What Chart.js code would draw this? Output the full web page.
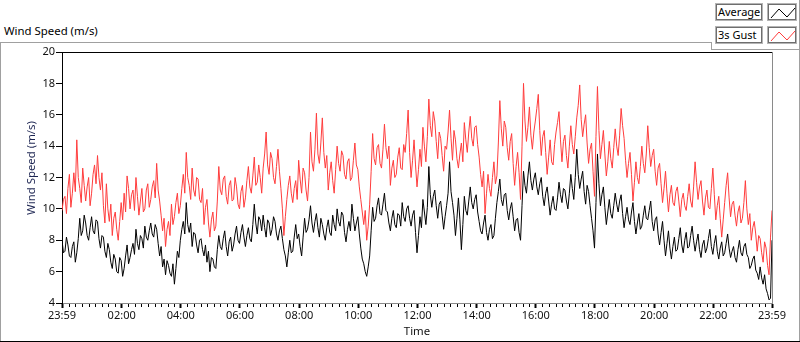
<!DOCTYPE html>
<html>
<head>
<meta charset="utf-8">
<script src="https://cdn.jsdelivr.net/npm/chart.js@4.4.1/dist/chart.umd.min.js"></script>
<style>
    html, body { margin: 0; padding: 0; background: #fff; }
    #wrap { position: relative; width: 800px; height: 342px; overflow: hidden; font-family: 'Noto Sans', sans-serif; }
    #chart { position: absolute; left: 0; top: 0; }
    .ln { position: absolute; background: #a0a0a0; }
    #title { position: absolute; left: 4px; top: 23px; font-size: 11.4px; color: #000; white-space: nowrap; }
    .lg { position: absolute; box-sizing: border-box; height: 18px; border: 1px solid #b4b4b4; box-shadow: inset 0 0 0 1px #6e6e6e; background: #fff; font-size: 11px; line-height: 15px; padding-left: 2px; white-space: nowrap; }
    .lg svg { position: absolute; left: 0; top: 0; }
</style>
</head>
<body>
<div id="wrap">
    <div class="ln" style="left:0;top:42px;width:711px;height:1px"></div>
    <div class="ln" style="left:711px;top:42px;width:1px;height:8px"></div>
    <div class="ln" style="left:711px;top:49px;width:88px;height:1px"></div>
    <div class="ln" style="left:799px;top:0;width:1px;height:342px"></div>
    <div class="ln" style="left:0;top:42px;width:1px;height:300px"></div>
    <div class="ln" style="left:0;top:341px;width:800px;height:1px;background:#000"></div>
    <div id="title">Wind Speed (m/s)</div>
    <div class="lg" style="left:715px;top:3px;width:48px">Average</div>
    <div class="lg" style="left:767px;top:3px;width:30px">
        <svg width="30" height="18"><polyline points="3,14 11,5 19,13 27,4" fill="none" stroke="#000" stroke-width="1"/></svg>
    </div>
    <div class="lg" style="left:715px;top:26px;width:48px">3s Gust</div>
    <div class="lg" style="left:767px;top:26px;width:30px">
        <svg width="30" height="18"><polyline points="3,14 11,5 19,13 27,4" fill="none" stroke="#ff3c3c" stroke-width="1"/></svg>
    </div>
    <canvas id="chart" width="800" height="342"></canvas>
</div>
<script>
// one sample every 3 minutes, first one at 23:59 of the previous day (-1 min)
const START_MIN = -1;
const STEP_MIN = 3;

const TICK_VALUES = [-1, 120, 240, 360, 480, 600, 720, 840, 960, 1080, 1200, 1320, 1439];
const TICK_LABELS = ['23:59', '02:00', '04:00', '06:00', '08:00', '10:00', '12:00', '14:00', '16:00', '18:00', '20:00', '22:00', '23:59'];
const MINOR_PER_MAJOR = 9;

const gust = [
    9.9, 10.6, 10.8, 9.7, 11.3, 12.2, 10.1, 11.0, 12.3, 11.1,
    14.4, 12.0, 11.3, 10.4, 12.6, 11.5, 10.5, 11.4, 12.0, 10.2,
    11.0, 12.2, 12.8, 11.6, 13.4, 12.0, 11.2, 12.3, 10.2, 9.1,
    11.6, 10.0, 9.2, 10.3, 8.3, 9.4, 9.8, 8.7, 8.0, 9.2,
    10.4, 9.3, 11.0, 9.8, 12.1, 11.3, 10.0, 10.9, 11.2, 9.9,
    12.0, 10.8, 9.6, 10.5, 11.3, 9.8, 10.0, 11.2, 11.6, 10.1,
    10.6, 11.4, 11.8, 10.7, 12.9, 11.2, 10.5, 9.6, 8.6, 9.4,
    7.6, 8.7, 9.2, 8.3, 10.3, 9.0, 9.5, 10.4, 11.0, 9.7,
    10.2, 11.3, 12.2, 11.0, 13.6, 12.0, 11.5, 10.6, 12.6, 11.2,
    10.8, 12.0, 11.9, 10.6, 10.4, 11.3, 9.0, 10.1, 10.6, 9.1,
    8.2, 9.3, 9.8, 8.6, 8.9, 10.5, 12.7, 11.2, 10.9, 11.9,
    12.1, 10.8, 10.3, 11.5, 11.8, 10.5, 10.6, 12.0, 11.4, 10.3,
    10.0, 11.1, 11.5, 10.1, 10.7, 11.8, 12.7, 11.4, 11.0, 12.1,
    13.3, 11.5, 11.7, 12.8, 12.0, 11.0, 12.6, 13.5, 14.9, 12.8,
    12.2, 13.6, 13.2, 12.0, 11.6, 12.7, 13.8, 12.4, 11.3, 10.0,
    8.3, 9.5, 10.6, 11.5, 12.1, 11.0, 10.4, 11.3, 11.8, 10.6,
    13.1, 11.9, 11.0, 12.6, 12.3, 11.2, 10.5, 12.0, 14.9, 13.0,
    12.4, 13.8, 16.1, 13.5, 12.9, 14.2, 15.8, 13.6, 12.6, 13.4,
    11.2, 12.3, 13.0, 11.8, 11.0, 12.5, 14.0, 12.9, 12.4, 13.7,
    13.4, 12.2, 11.9, 13.0, 13.2, 11.8, 12.0, 13.1, 14.2, 12.8,
    12.5, 11.4, 10.6, 9.8, 9.0, 9.9, 8.0, 8.9, 10.3, 12.4,
    14.8, 13.2, 12.8, 13.9, 14.1, 12.9, 12.6, 13.8, 15.4, 13.9,
    13.2, 14.0, 11.5, 12.6, 13.1, 12.0, 12.2, 13.3, 13.9, 12.6,
    12.5, 14.1, 13.6, 14.8, 16.3, 13.6, 12.0, 13.1, 14.4, 12.8,
    11.4, 12.5, 13.8, 12.7, 15.2, 14.0, 13.0, 14.6, 17.0, 15.3,
    14.6, 16.2, 15.6, 14.3, 13.2, 14.9, 14.5, 13.4, 12.4, 14.0,
    13.8, 14.9, 16.3, 14.5, 13.1, 15.0, 14.4, 13.2, 12.6, 13.5,
    14.2, 13.0, 15.5, 14.4, 13.6, 14.9, 15.9, 14.5, 14.0, 15.2,
    15.3, 14.1, 13.3, 12.2, 11.4, 12.4, 9.7, 11.0, 12.2, 11.3,
    10.8, 12.0, 13.0, 11.6, 12.1, 14.2, 16.9, 15.1, 14.0, 15.6,
    15.2, 13.9, 13.1, 14.3, 14.8, 12.9, 11.5, 12.7, 13.6, 12.3,
    10.6, 14.0, 18.0, 15.6, 14.3, 15.2, 16.5, 14.7, 13.8, 14.9,
    15.6, 16.4, 17.3, 15.0, 13.4, 14.6, 15.0, 13.6, 12.2, 13.3,
    14.4, 13.0, 12.8, 14.1, 14.9, 15.5, 16.2, 14.4, 13.0, 14.3,
    14.7, 13.4, 12.6, 14.0, 15.3, 14.1, 13.5, 14.6, 15.8, 16.6,
    17.9, 15.7, 14.6, 15.4, 16.0, 14.2, 12.9, 13.8, 14.2, 12.4,
    10.8, 14.6, 17.8, 15.0, 13.2, 14.1, 15.0, 13.5, 12.1, 13.0,
    14.3, 13.2, 12.6, 13.9, 15.1, 14.0, 13.4, 14.7, 16.4, 15.3,
    14.5, 13.1, 12.0, 12.9, 13.6, 12.2, 10.5, 11.7, 13.0, 12.0,
    11.6, 12.7, 14.0, 12.9, 12.3, 13.5, 15.3, 13.9, 12.7, 13.4,
    13.8, 12.4, 11.5, 12.6, 12.9, 11.6, 10.4, 11.3, 12.4, 11.0,
    9.8, 10.9, 11.5, 10.4, 10.2, 11.1, 11.4, 10.5, 9.5, 10.6,
    11.0, 10.2, 9.9, 10.8, 11.6, 10.5, 10.1, 11.4, 13.0, 11.7,
    10.6, 11.4, 11.8, 10.5, 9.6, 10.7, 11.2, 10.1, 10.0, 11.3,
    12.6, 10.9, 9.3, 10.2, 10.8, 9.4, 8.2, 9.3, 10.4, 11.5,
    12.3, 10.7, 9.5, 10.3, 10.5, 9.6, 8.9, 9.8, 10.2, 9.1,
    9.4, 10.4, 11.8, 10.0, 9.0, 9.7, 8.0, 8.8, 9.2, 8.4,
    7.3, 8.3, 8.1, 7.2, 6.6, 7.9, 7.5, 6.4, 5.8, 8.2,
    9.9
];

const average = [
    8.0, 7.2, 7.3, 8.2, 7.7, 7.0, 6.9, 7.6, 7.9, 6.6,
    7.2, 8.1, 9.4, 8.3, 8.6, 9.6, 9.1, 8.3, 8.0, 8.8,
    9.5, 8.6, 8.4, 9.3, 9.2, 8.1, 7.5, 8.3, 8.2, 7.3,
    6.9, 7.8, 7.4, 6.6, 6.2, 7.1, 6.8, 6.0, 5.9, 6.9,
    6.7, 5.7, 6.2, 7.0, 7.7, 6.5, 6.9, 7.4, 7.8, 7.1,
    8.7, 7.8, 7.4, 8.3, 8.1, 7.5, 8.9, 8.2, 8.0, 8.6,
    9.1, 8.4, 8.2, 9.0, 8.7, 7.8, 7.0, 7.6, 6.3, 6.8,
    5.8, 6.7, 6.4, 5.9, 5.7, 6.5, 5.2, 6.2, 7.3, 6.9,
    8.0, 8.7, 9.2, 8.4, 10.4, 9.0, 8.5, 9.1, 7.6, 8.5,
    8.4, 7.7, 7.2, 8.0, 8.1, 7.4, 7.0, 7.7, 6.6, 7.3,
    6.0, 6.9, 6.8, 6.3, 6.2, 7.4, 8.3, 7.6, 7.4, 8.1,
    8.6, 7.6, 7.0, 7.9, 8.2, 7.3, 7.7, 8.4, 8.9, 8.0,
    7.8, 8.5, 9.0, 8.2, 7.6, 8.3, 8.8, 8.1, 7.9, 9.0,
    10.3, 9.1, 8.4, 9.5, 9.3, 8.6, 9.6, 8.8, 8.2, 9.3,
    9.1, 8.3, 8.7, 9.5, 9.2, 8.4, 8.0, 8.6, 8.9, 8.1,
    7.4, 7.0, 6.3, 7.2, 8.0, 7.2, 7.3, 8.2, 9.0, 8.1,
    8.4, 7.6, 7.0, 8.2, 9.4, 8.5, 8.7, 9.3, 10.2, 9.1,
    8.5, 9.2, 9.7, 8.8, 8.2, 9.4, 9.0, 8.4, 8.0, 8.8,
    9.3, 8.5, 8.3, 9.6, 9.0, 8.6, 10.0, 9.2, 8.9, 9.8,
    9.6, 8.5, 7.9, 8.7, 9.2, 8.6, 10.3, 9.4, 8.6, 9.1,
    9.5, 8.4, 7.5, 6.8, 6.5, 6.0, 5.7, 6.3, 7.0, 8.6,
    10.1, 9.2, 9.4, 10.2, 10.7, 9.7, 9.6, 10.3, 11.0, 9.9,
    9.8, 9.1, 8.6, 9.4, 9.9, 9.0, 8.8, 9.7, 9.6, 8.9,
    10.4, 9.5, 9.2, 10.0, 10.2, 9.4, 8.9, 9.6, 9.9, 8.5,
    7.2, 8.3, 9.5, 8.8, 10.6, 9.8, 9.0, 10.1, 12.7, 10.9,
    10.1, 10.8, 11.2, 10.2, 9.4, 10.3, 10.5, 9.6, 8.7, 9.5,
    10.2, 11.0, 13.0, 11.1, 10.4, 9.6, 8.3, 9.4, 10.7, 9.3,
    7.4, 9.0, 10.8, 9.9, 9.6, 10.5, 11.4, 10.4, 10.0, 10.6,
    10.9, 9.8, 9.2, 8.6, 8.4, 9.1, 9.6, 8.5, 8.0, 8.7,
    9.0, 8.1, 8.3, 9.4, 10.4, 11.1, 11.9, 10.6, 10.2, 10.9,
    11.0, 9.9, 9.3, 10.0, 10.4, 9.5, 8.6, 9.3, 9.4, 8.5,
    8.0, 10.2, 12.4, 11.5, 11.0, 12.1, 13.0, 11.8, 11.2, 11.9,
    12.3, 11.4, 10.9, 11.6, 12.0, 10.8, 10.2, 11.0, 11.4, 10.5,
    9.6, 10.3, 10.8, 10.0, 9.9, 10.7, 11.7, 10.9, 10.4, 11.3,
    11.2, 10.5, 10.0, 11.0, 12.2, 11.3, 10.6, 12.0, 13.8, 12.2,
    11.3, 11.9, 12.4, 11.1, 10.3, 11.5, 11.1, 10.2, 9.4, 8.6,
    7.5, 10.4, 13.5, 11.6, 10.2, 10.9, 11.4, 10.1, 9.0, 9.8,
    10.6, 9.7, 9.4, 10.2, 11.0, 10.3, 9.8, 10.5, 10.9, 9.7,
    8.8, 9.5, 10.1, 9.3, 9.0, 9.8, 10.4, 9.2, 8.4, 9.1,
    9.7, 8.7, 8.9, 9.6, 10.2, 9.4, 9.3, 9.9, 10.5, 9.2,
    8.6, 9.3, 9.5, 8.4, 7.7, 8.5, 9.2, 8.0, 7.0, 7.8,
    8.6, 7.5, 6.8, 7.6, 8.2, 7.3, 7.4, 8.1, 8.8, 7.7,
    7.2, 8.0, 8.5, 7.5, 7.6, 8.3, 8.9, 8.0, 7.3, 7.9,
    8.4, 7.4, 6.9, 7.7, 8.0, 7.2, 7.5, 8.1, 8.7, 7.6,
    7.1, 7.8, 8.3, 7.3, 6.8, 7.5, 7.9, 7.0, 7.2, 7.8,
    8.4, 7.5, 6.9, 7.3, 7.6, 6.9, 6.6, 7.4, 8.0, 7.2,
    7.0, 7.6, 7.8, 7.1, 6.9, 6.2, 6.4, 6.8, 7.0, 6.1,
    5.9, 5.5, 6.3, 5.6, 5.2, 5.8, 4.9, 4.6, 4.2, 4.3,
    8.0
];

const toPoints = arr => arr.map((v, i) => ({ x: START_MIN + i * STEP_MIN, y: v }));

const FONT = { family: "'Noto Sans', sans-serif", size: 11 };

// top/right frame, minor x ticks and the two axis titles
const framePlugin = {
    id: 'frame',
    afterDraw(chart) {
        const { ctx, chartArea: a, scales: { x } } = chart;
        ctx.save();
        ctx.lineWidth = 1;
        ctx.strokeStyle = '#000';
        ctx.beginPath();
        ctx.moveTo(a.left, a.top + 0.5);
        ctx.lineTo(a.right, a.top + 0.5);
        ctx.stroke();
        ctx.strokeStyle = '#8a8a8a';
        ctx.beginPath();
        ctx.moveTo(a.right + 0.5, a.top);
        ctx.lineTo(a.right + 0.5, a.bottom);
        ctx.stroke();

        ctx.strokeStyle = '#000';
        ctx.beginPath();
        for (let k = 0; k < TICK_VALUES.length - 1; k++) {
            for (let j = 1; j < MINOR_PER_MAJOR; j++) {
                const v = TICK_VALUES[k] + (TICK_VALUES[k + 1] - TICK_VALUES[k]) * j / MINOR_PER_MAJOR;
                const px = Math.round(x.getPixelForValue(v)) + 0.5;
                ctx.moveTo(px, a.bottom + 1);
                ctx.lineTo(px, a.bottom + 4);
            }
        }
        ctx.stroke();

        ctx.font = "11.4px 'Noto Sans', sans-serif";
        ctx.fillStyle = '#1d2552';
        ctx.textAlign = 'center';
        ctx.textBaseline = 'middle';
        ctx.save();
        ctx.translate(32, 168);
        ctx.rotate(-Math.PI / 2);
        ctx.fillText('Wind Speed (m/s)', 0, 0);
        ctx.restore();
        ctx.fillStyle = '#111';
        ctx.fillText('Time', (a.left + a.right) / 2, 332);
        ctx.restore();
    }
};

new Chart(document.getElementById('chart'), {
    type: 'line',
    data: {
        datasets: [
            {
                label: '3s Gust',
                data: toPoints(gust),
                borderColor: '#ff3c3c',
                borderWidth: 1, pointRadius: 0, tension: 0, fill: false,
            },
            {
                label: 'Average',
                data: toPoints(average),
                borderColor: '#000',
                borderWidth: 1, pointRadius: 0, tension: 0, fill: false,
            },
        ],
    },
    options: {
        responsive: false, animation: false,
        layout: { padding: { left: 0, right: 28, top: 52, bottom: 0 } },
        plugins: { legend: { display: false }, tooltip: { enabled: false } },
        scales: {
            x: {
                type: 'linear', min: -1, max: 1439,
                afterBuildTicks: axis => { axis.ticks = TICK_VALUES.map(v => ({ value: v })); },
                afterFit: axis => { axis.height = 39; },
                ticks: {
                    autoSkip: false, maxRotation: 0, padding: 1, color: '#111', font: FONT,
                    callback: (v, i) => TICK_LABELS[i],
                },
                grid: { drawOnChartArea: false, tickLength: 5, tickWidth: 2, tickColor: '#000' },
                border: { color: '#8a8a8a', width: 1 },
            },
            y: {
                min: 4, max: 20,
                afterFit: axis => { axis.width = 62; },
                ticks: { stepSize: 2, padding: 1, color: '#111', font: FONT },
                grid: { drawOnChartArea: false, tickLength: 6, tickWidth: 1, tickColor: '#000' },
                border: { color: '#000', width: 1 },
            },
        },
    },
    plugins: [framePlugin],
});
</script>
</body>
</html>
